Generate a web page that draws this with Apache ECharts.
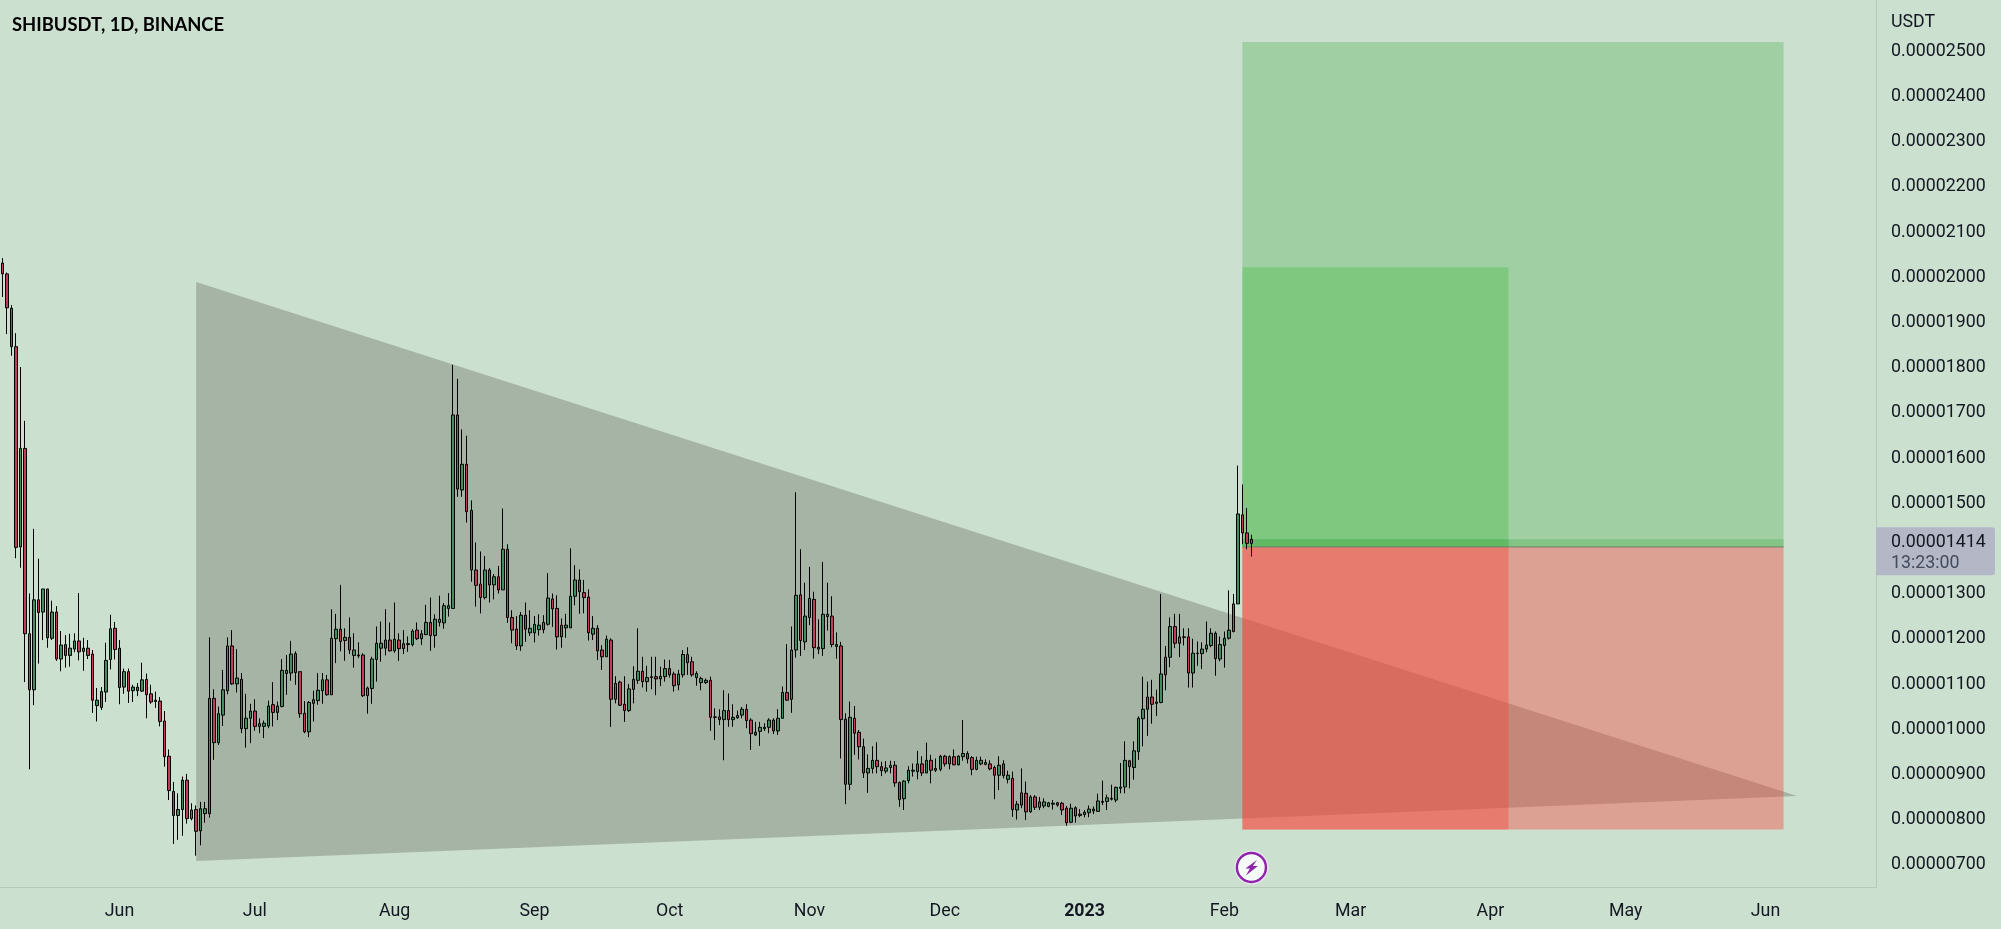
<!DOCTYPE html>
<html>
<head>
<meta charset="utf-8">
<title>SHIBUSDT, 1D, BINANCE</title>
<script src="https://cdn.jsdelivr.net/npm/echarts@6/dist/echarts.min.js"></script>
<style>html,body{margin:0;padding:0;background:#cce0d0}#chart{width:2001px;height:929px}</style>
</head>
<body>
<div id="chart"></div>
<script>
// Prices are in units of 0.00000001 USDT. Each row: open, close, low, high.
const ohlc = [
[2025,2001,1950,2036],[2001,1926,1868,2004],[1925,1840,1820,1932],[1840,1396,1372,1870],[1397,1615,1351,1795],
[1615,1205,1098,1676],[1205,1081,905,1294],[1081,1280,1047,1437],[1280,1252,1139,1371],[1253,1304,1191,1304],
[1304,1196,1174,1304],[1195,1253,1191,1278],[1253,1149,1145,1266],[1149,1180,1122,1211],[1181,1157,1130,1202],
[1157,1173,1132,1205],[1171,1189,1164,1206],[1189,1165,1146,1295],[1166,1173,1123,1196],[1173,1157,1149,1191],
[1160,1058,1030,1169],[1046,1058,1011,1085],[1042,1077,1036,1087],[1076,1146,1054,1185],[1148,1216,1126,1247],
[1217,1170,1148,1231],[1173,1086,1049,1191],[1087,1121,1072,1128],[1121,1078,1052,1128],[1079,1087,1054,1092],
[1079,1087,1067,1096],[1078,1103,1076,1141],[1104,1070,1018,1117],[1072,1054,1050,1092],[1058,1055,1041,1077],
[1056,1011,1000,1065],[1012,933,911,1034],[934,858,837,949],[856,803,740,877],[803,816,749,852],
[816,881,758,889],[881,796,785,895],[796,815,792,830],[816,768,714,825],[769,818,737,833],
[807,818,787,833],[807,1062,798,1197],[1062,964,926,1082],[964,1028,959,1044],[1025,1081,1001,1125],
[1079,1178,1071,1197],[1178,1094,1092,1213],[1094,1107,1075,1171],[1104,995,985,1118],[995,1018,953,1072],
[1018,1034,963,1050],[1034,1000,990,1060],[1000,1006,985,1018],[1000,1007,974,1013],[1001,1045,996,1057],
[1048,1031,1000,1098],[1031,1045,1014,1055],[1044,1124,1042,1149],[1117,1124,1070,1158],[1118,1160,1101,1189],
[1161,1119,1092,1166],[1121,1028,1019,1121],[1029,988,985,1056],[988,1053,976,1056],[1051,1059,1011,1079],
[1057,1080,1048,1118],[1079,1103,1050,1118],[1103,1070,1068,1114],[1070,1195,1070,1259],[1194,1215,1140,1249],
[1215,1188,1166,1313],[1190,1197,1145,1217],[1197,1169,1160,1241],[1157,1169,1130,1206],[1158,1156,1151,1186],
[1158,1068,1065,1162],[1068,1085,1028,1088],[1084,1149,1050,1154],[1148,1184,1099,1221],[1173,1184,1143,1232],
[1173,1191,1157,1259],[1191,1167,1166,1230],[1167,1193,1163,1274],[1191,1172,1145,1206],[1172,1183,1160,1213],
[1181,1183,1165,1199],[1181,1211,1177,1215],[1213,1194,1191,1230],[1194,1205,1180,1213],[1203,1230,1202,1269],
[1230,1201,1167,1285],[1201,1237,1174,1248],[1230,1237,1221,1289],[1229,1267,1216,1273],[1261,1267,1243,1295],
[1261,1689,1261,1800],[1689,1525,1508,1769],[1523,1580,1508,1657],[1580,1475,1451,1643],[1478,1346,1320,1500],
[1346,1312,1265,1407],[1315,1285,1250,1387],[1285,1346,1281,1377],[1346,1313,1274,1350],[1313,1331,1281,1337],
[1331,1302,1294,1355],[1302,1392,1302,1482],[1392,1241,1229,1403],[1241,1213,1184,1257],[1215,1178,1169,1244],
[1178,1246,1167,1253],[1246,1215,1187,1274],[1207,1217,1200,1257],[1207,1226,1186,1244],[1214,1224,1201,1248],
[1214,1230,1206,1246],[1226,1284,1223,1339],[1282,1260,1220,1294],[1261,1198,1170,1290],[1198,1224,1174,1239],
[1218,1224,1196,1249],[1218,1288,1218,1394],[1288,1324,1268,1357],[1324,1298,1249,1347],[1296,1285,1250,1324],
[1286,1207,1190,1303],[1204,1217,1191,1244],[1217,1167,1147,1224],[1169,1154,1125,1180],[1154,1193,1154,1201],
[1191,1060,999,1195],[1060,1095,1051,1111],[1098,1047,1045,1101],[1049,1035,1010,1111],[1035,1083,1032,1094],
[1082,1104,1051,1133],[1102,1122,1094,1217],[1122,1099,1086,1154],[1099,1108,1077,1134],[1108,1110,1082,1154],
[1110,1105,1069,1154],[1105,1111,1089,1132],[1110,1128,1099,1148],[1128,1114,1108,1147],[1116,1090,1077,1121],
[1092,1116,1080,1125],[1114,1159,1108,1169],[1159,1141,1114,1175],[1143,1114,1110,1154],[1108,1117,1090,1122],
[1097,1106,1080,1110],[1097,1102,1094,1106],[1102,1020,990,1110],[1020,1021,970,1040],[1021,1015,1003,1038],
[1015,1035,925,1080],[1035,1015,999,1073],[1015,1020,999,1049],[1019,1024,1017,1035],[1025,1038,1018,1043],
[1038,1013,996,1049],[1014,984,948,1018],[981,987,979,1010],[989,998,957,1010],[995,998,990,1007],
[998,1014,985,1018],[1014,990,983,1018],[990,1018,981,1038],[1018,1075,1017,1088],[1075,1058,1057,1182],
[1060,1169,1030,1221],[1169,1290,1152,1518],[1291,1190,1156,1392],[1187,1244,1169,1318],[1241,1283,1224,1353],
[1281,1174,1150,1298],[1171,1175,1160,1237],[1172,1248,1156,1364],[1243,1248,1212,1318],[1244,1181,1175,1288],
[1177,1181,1150,1208],[1178,1015,929,1187],[1016,872,828,1029],[872,1020,859,1055],[1018,985,937,1045],
[987,955,927,992],[955,897,886,973],[897,907,853,938],[907,925,896,956],[925,911,896,965],
[911,902,890,922],[901,908,896,923],[909,914,896,924],[914,875,866,923],[876,838,822,878],
[840,879,815,881],[880,903,874,912],[901,903,889,918],[900,917,883,946],[917,897,890,934],
[897,925,897,964],[925,903,874,937],[903,907,899,929],[905,934,901,937],[934,917,911,937],
[917,933,905,936],[933,915,914,949],[915,934,914,936],[933,940,924,1014],[940,928,918,945],
[931,905,892,934],[905,925,903,933],[917,925,914,933],[916,920,914,927],[917,906,903,925],
[909,892,839,913],[892,914,859,934],[917,891,885,925],[883,892,874,902],[885,816,800,900],
[815,828,794,835],[826,853,819,907],[852,811,793,878],[811,844,809,848],[844,821,815,848],
[821,833,815,844],[824,833,819,841],[823,831,821,833],[828,830,816,837],[831,826,822,833],
[830,815,804,833],[819,787,780,824],[788,819,786,829],[820,802,787,823],[803,806,799,817],
[805,810,799,815],[809,817,799,825],[813,817,806,823],[812,835,811,851],[832,834,826,880],
[834,842,815,849],[839,841,836,871],[837,865,832,867],[863,866,852,919],[866,925,852,967],
[924,911,863,926],[909,946,882,967],[944,1018,926,1022],[1017,1038,956,1110],[1038,1065,979,1099],
[1065,1049,1006,1103],[1051,1054,1023,1081],[1053,1116,1051,1293],[1114,1153,1080,1178],[1153,1221,1131,1241],
[1221,1184,1173,1249],[1184,1198,1153,1249],[1197,1198,1179,1217],[1198,1118,1086,1217],[1118,1162,1086,1194],
[1161,1162,1134,1188],[1161,1171,1127,1186],[1171,1180,1164,1232],[1179,1206,1175,1217],[1206,1150,1112,1210],
[1149,1181,1144,1199],[1179,1195,1130,1210],[1195,1213,1192,1301],[1210,1271,1208,1293],[1271,1470,1271,1577],
[1468,1428,1403,1535],[1428,1405,1392,1483],[1405,1414,1376,1424]
];
const firstDate = '2022-05-06';
const dayCount = 416;
const monthNames = ['Jan','Feb','Mar','Apr','May','Jun','Jul','Aug','Sep','Oct','Nov','Dec'];
const priceTicks = [700,800,900,1000,1100,1200,1300,1400,1500,1600,1700,1800,1900,2000,2100,2200,2300,2400,2500];
const lastPrice = 1414;
const countdown = '13:23:00';
const iconPrice = 688;
// Drawn wedge: [date, price]
const wedge = [['2022-06-18',1983],['2023-06-08',846],['2022-06-18',702]];
// Position tool, each [from date, to date, top price, bottom price]
const profitZone = ['2023-02-05','2023-06-05',2514,1397];
const profitInner = ['2023-02-05','2023-04-05',2016,1397];
const entryStrip = ['2023-02-05','2023-06-05',1414,1397];
const entryStripInner = ['2023-02-05','2023-04-05',1414,1397];
const stopZone = ['2023-02-05','2023-06-05',1397,772];
const stopInner = ['2023-02-05','2023-04-05',1397,772];
const entryLine = ['2023-02-05','2023-06-05',1397];

const dayMs = 86400000;
const t0 = Date.parse(firstDate + 'T00:00:00Z');
const categories = [];
for (let i = 0; i < dayCount; i++) categories.push(new Date(t0 + i * dayMs).toISOString().slice(0, 10));
const ix = d => categories.indexOf(d);

const GREEN = 'rgba(76,175,80,0.35)';
const GREEN_INNER = 'rgba(70,190,70,0.38)';
const RED = 'rgba(244,67,54,0.40)';
const zones = [
  [profitZone, GREEN], [profitInner, GREEN_INNER], [entryStrip, GREEN], [entryStripInner, GREEN],
  [stopZone, RED], [stopInner, RED]
];

const chart = echarts.init(document.getElementById('chart'), null, {renderer: 'canvas'});
const FONT = 'Roboto';
chart.setOption({
  animation: false,
  backgroundColor: '#cce0d0',
  title: [
    {text: 'SHIBUSDT, 1D, BINANCE', left: 7, top: 11,
     textStyle: {fontFamily: 'Lato', fontWeight: 'bold', fontSize: 18.4, color: '#000'}},
    {text: 'USDT', left: 1886, top: 9,
     textStyle: {fontFamily: FONT, fontWeight: 'normal', fontSize: 17.8, color: '#131722'}}
  ],
  grid: {left: 0, right: 125, top: 0, bottom: 42, containLabel: false},
  xAxis: {
    type: 'category', data: categories, boundaryGap: true,
    axisLine: {show: true, lineStyle: {color: '#b5c8ba', width: 1}},
    axisTick: {show: false}, splitLine: {show: false},
    axisLabel: {
      interval: (i, v) => v.slice(8) === '01',
      hideOverlap: false,
      margin: 16, fontFamily: FONT, fontSize: 17.8, color: '#131722',
      formatter: v => {
        const m = +v.slice(5, 7);
        return m === 1 ? '{y|' + v.slice(0, 4) + '}' : monthNames[m - 1];
      },
      rich: {y: {fontFamily: FONT, fontWeight: 'bold', fontSize: 17.8, color: '#131722'}}
    }
  },
  yAxis: {
    type: 'value', position: 'right', min: 644.7, max: 2607, scale: true,
    axisLine: {show: true, lineStyle: {color: '#b5c8ba', width: 1}},
    axisTick: {show: false}, splitLine: {show: false},
    axisLabel: {
      customValues: priceTicks, margin: 15, fontFamily: FONT, fontSize: 17.8, color: '#131722',
      formatter: v => '{p|' + (v / 1e8).toFixed(8) + '}',
      rich: {p: {fontFamily: FONT, fontSize: 17.8, color: '#131722', padding: [6, 0, 0, 0]}}
    }
  },
  series: [
    {
      type: 'custom', z: 1, silent: true, clip: false, data: [0],
      renderItem: (p, api) => ({
        type: 'polygon',
        shape: {points: wedge.map(w => api.coord([ix(w[0]), w[1]]))},
        style: {fill: 'rgba(120,126,115,0.45)'}
      })
    },
    {
      type: 'candlestick', z: 3, data: ohlc, barWidth: 3, large: false, progressive: 0,
      itemStyle: {color: '#3f8f5c', color0: '#c23c55', borderColor: '#000', borderColor0: '#000', borderWidth: 1}
    },
    {
      type: 'custom', z: 2, silent: true, clip: false, data: zones.map((z, i) => i),
      renderItem: (p, api) => {
        const z = zones[p.dataIndex];
        const a = api.coord([ix(z[0][0]), z[0][2]]);
        const b = api.coord([ix(z[0][1]), z[0][3]]);
        return {type: 'rect', shape: {x: a[0], y: a[1], width: b[0] - a[0], height: b[1] - a[1]}, style: {fill: z[1]}};
      }
    },
    {
      type: 'custom', z: 2, silent: true, clip: false, data: [0],
      renderItem: (p, api) => {
        const a = api.coord([ix(entryLine[0]), entryLine[2]]);
        const b = api.coord([ix(entryLine[1]), entryLine[2]]);
        return {type: 'line', shape: {x1: a[0], y1: a[1], x2: b[0], y2: b[1]}, style: {stroke: '#6f7f66', lineWidth: 1}};
      }
    },
    {
      type: 'custom', z: 5, silent: true, clip: false, data: [0],
      renderItem: (p, api) => {
        const cs = p.coordSys;
        const right = cs.x + cs.width;
        const py = api.coord([ix(categories[0]), lastPrice])[1];
        const c = api.coord([ohlc.length - 1, iconPrice]);
        const bolt = [[5.5,-7.5],[-6,1],[-1.5,1],[-5.5,8],[6.5,-1.5],[1.5,-1.5]].map(q => [c[0] + q[0], c[1] + q[1]]);
        return {type: 'group', children: [
          {type: 'rect', shape: {x: right, y: py - 12, width: 119, height: 48, r: [0, 3, 3, 0]}, style: {fill: '#b4b8c6'}},
          {type: 'text', style: {x: right + 15, y: py + 3, text: (lastPrice / 1e8).toFixed(8), fill: '#131722',
            font: '17.8px ' + FONT, textVerticalAlign: 'middle'}},
          {type: 'text', style: {x: right + 15, y: py + 24, text: countdown, fill: '#434a5c',
            font: '17.8px ' + FONT, textVerticalAlign: 'middle'}},
          {type: 'circle', shape: {cx: c[0], cy: c[1], r: 17}, style: {fill: '#e9e4ee'}},
          {type: 'circle', shape: {cx: c[0], cy: c[1], r: 14.5}, style: {fill: '#f4fbf6', stroke: '#8e24aa', lineWidth: 2.4}},
          {type: 'polygon', shape: {points: bolt}, style: {fill: '#8e24aa'}}
        ]};
      }
    }
  ]
});
</script>
</body>
</html>
